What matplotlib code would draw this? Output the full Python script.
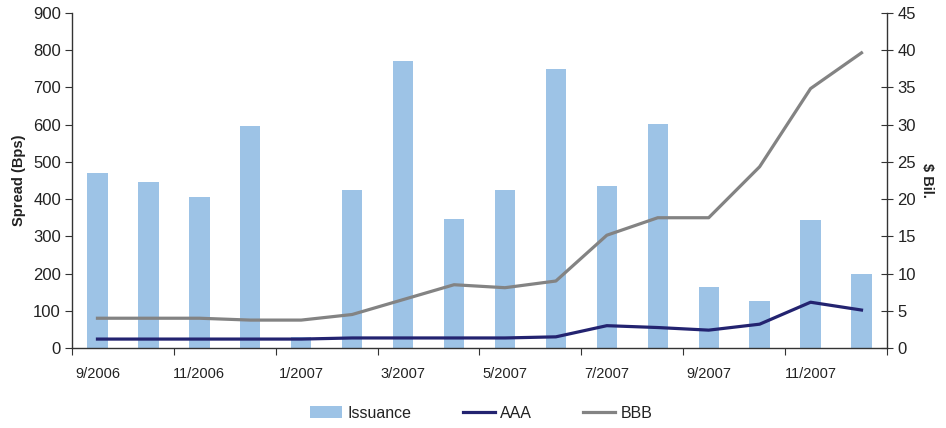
import matplotlib
matplotlib.use("Agg")
import matplotlib.pyplot as plt
import numpy as np

plt.rcParams['font.family'] = ['Liberation Sans', 'DejaVu Sans']

months = ["9/2006", "10/2006", "11/2006", "12/2006", "1/2007", "2/2007", "3/2007", "4/2007",
          "5/2007", "6/2007", "7/2007", "8/2007", "9/2007", "10/2007", "11/2007", "12/2007"]
issuance = [23.5, 22.3, 20.3, 29.8, 1.5, 21.2, 38.6, 17.3, 21.2, 37.5, 21.8, 30.1, 8.2, 6.3, 17.2, 9.9]
aaa = [24, 24, 24, 24, 24, 27, 27, 27, 27, 30, 60, 55, 48, 64, 123, 102]
bbb = [80, 80, 80, 75, 75, 90, 130, 170, 162, 180, 303, 350, 350, 487, 697, 793]

left_ticks = [0, 100, 200, 300, 400, 500, 600, 700, 800, 900]
right_ticks = [0, 5, 10, 15, 20, 25, 30, 35, 40, 45]

bar_color = "#9DC3E6"
aaa_color = "#232370"
bbb_color = "#838383"
axis_color = "#333333"
text_color = "#222222"

fig = plt.figure(figsize=(9.46, 4.28), dpi=100)
ax = fig.add_axes([0.0761, 0.1869, 0.8615, 0.7827])
ax2 = ax.twinx()

x = np.arange(len(months))
ax2.bar(x, issuance, width=0.4, color=bar_color, label="Issuance", zorder=1)
ax.plot(x, aaa, color=aaa_color, lw=2.3, label="AAA", zorder=3)
ax.plot(x, bbb, color=bbb_color, lw=2.3, label="BBB", zorder=3)

ax.set_zorder(ax2.get_zorder() + 1)
ax.patch.set_visible(False)

ax.set_xlim(-0.5, len(months) - 0.5)
ax.set_ylim(0, 900)
ax2.set_ylim(0, 45)
ax.set_yticks(left_ticks)
ax2.set_yticks(right_ticks)

ax.set_xticks(np.arange(-0.5, len(months), 2))
ax.set_xticklabels([])
ax.set_xticks(x[::2], minor=True)
ax.set_xticklabels(months[::2], minor=True)
ax.tick_params(axis='x', which='major', length=5, direction='out', color=axis_color)
ax.tick_params(axis='x', which='minor', length=0, pad=14, labelsize=10.5, labelcolor=text_color)
ax.tick_params(axis='y', length=5, direction='out', color=axis_color, labelsize=12, labelcolor=text_color, pad=3)
ax2.tick_params(axis='y', length=9, direction='inout', color=axis_color, labelsize=12, labelcolor=text_color, pad=3)

for a in (ax, ax2):
    a.spines['top'].set_visible(False)
    for s in ('left', 'right', 'bottom'):
        a.spines[s].set_color(axis_color)
        a.spines[s].set_linewidth(1.0)
ax.spines['right'].set_visible(False)
ax2.spines['left'].set_visible(False)
ax2.spines['bottom'].set_visible(False)

ax.set_ylabel("Spread (Bps)", fontsize=10.5, fontweight='bold', color=text_color, labelpad=5)
ax2.set_ylabel(r"\$ Bil.", fontsize=10.5, fontweight='bold', color=text_color, rotation=270, labelpad=13)

handles = [ax2.containers[0], ax.lines[0], ax.lines[1]]
labels = ["Issuance", "AAA", "BBB"]
leg = fig.legend(handles, labels, loc='center', bbox_to_anchor=(0.509, 0.035), ncol=3,
                 frameon=False, fontsize=11.5, handlelength=2.0, columnspacing=3.2,
                 handletextpad=0.35, labelcolor=text_color)

fig.savefig("out.png", dpi=100)
